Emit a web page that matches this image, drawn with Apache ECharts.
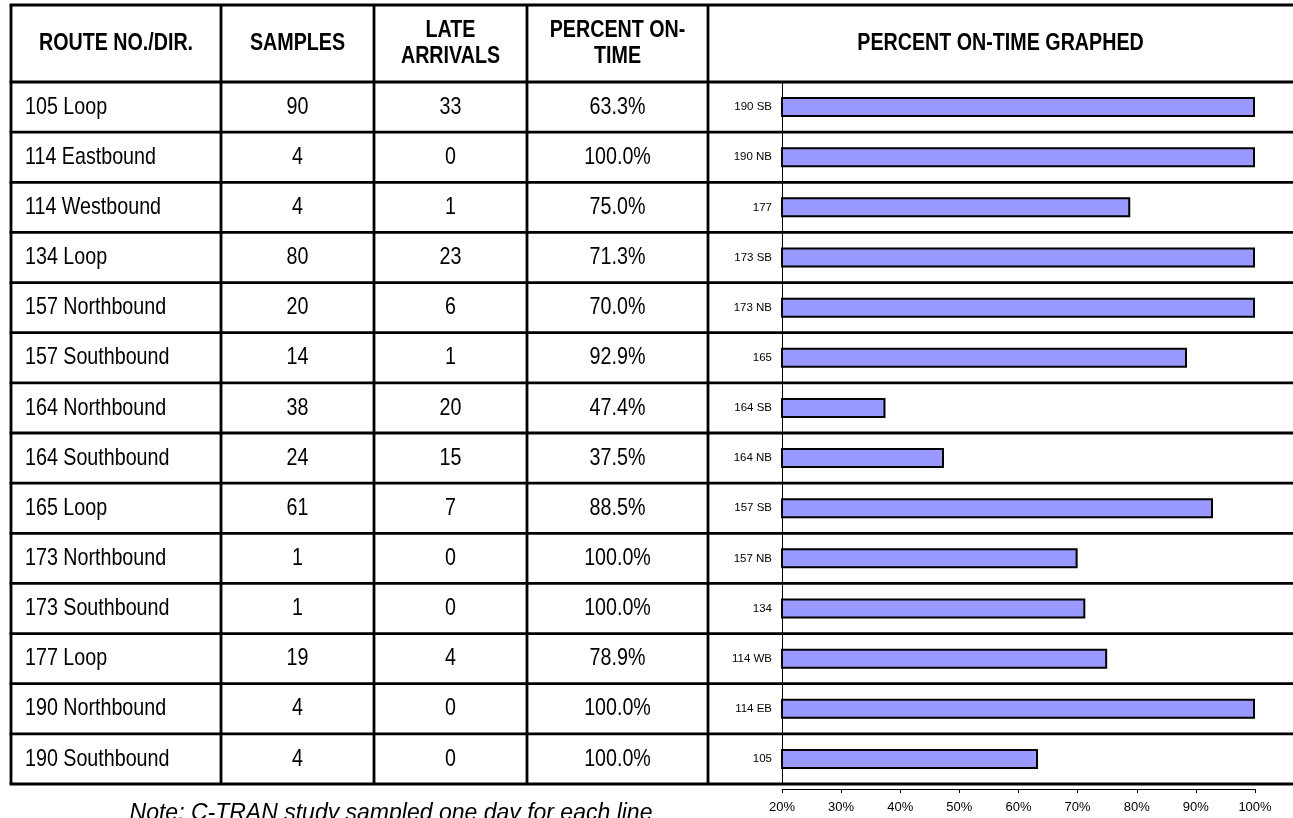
<!DOCTYPE html>
<html>
<head>
<meta charset="utf-8">
<style>
  html, body { margin: 0; padding: 0; background: #fff; }
  #chart { width: 1293px; height: 818px; }
</style>
<script src="https://cdn.jsdelivr.net/npm/echarts@6/dist/echarts.min.js"></script>
</head>
<body>
<div id="chart"></div>
<script>
// ---- data ----
const routes = ['105 Loop', '114 Eastbound', '114 Westbound', '134 Loop', '157 Northbound', '157 Southbound',
  '164 Northbound', '164 Southbound', '165 Loop', '173 Northbound', '173 Southbound', '177 Loop',
  '190 Northbound', '190 Southbound'];
const samples = [90, 4, 4, 80, 20, 14, 38, 24, 61, 1, 1, 19, 4, 4];
const lateArrivals = [33, 0, 1, 23, 6, 1, 20, 15, 7, 0, 0, 4, 0, 0];
const percentOnTime = [63.3, 100.0, 75.0, 71.3, 70.0, 92.9, 47.4, 37.5, 88.5, 100.0, 100.0, 78.9, 100.0, 100.0];
const chartLabels = ['105', '114 EB', '114 WB', '134', '157 NB', '157 SB', '164 NB', '164 SB', '165',
  '173 NB', '173 SB', '177', '190 NB', '190 SB'];
const headers = ['ROUTE NO./DIR.', 'SAMPLES', 'LATE\nARRIVALS', 'PERCENT ON-\nTIME', 'PERCENT ON-TIME GRAPHED'];
const xMin = 20, xMax = 100, xStep = 10;
const noteText = 'Note: C-TRAN study sampled one day for each line';

// ---- layout ----
const W = 1293, H = 818;
const colX = [11, 221, 374, 527, 708, W];   // column boundaries
const tableTop = 5, headerBottom = 82, tableBottom = 784;
const rowH = (tableBottom - headerBottom) / routes.length;
const plotLeft = 782, plotRight = 1255;
const arial = "'Liberation Sans', Arial, sans-serif";
const NARROW = 0.82;   // Arial Narrow ~ 82% width of Arial
const LW = 2.8;

const g = [];
// horizontal lines
const hy = [tableTop, headerBottom];
for (let i = 1; i <= routes.length; i++) hy.push(headerBottom + i * rowH);
hy.forEach(y => g.push({ type: 'line', shape: { x1: colX[0] - LW / 2, y1: y, x2: W, y2: y },
  style: { stroke: '#000', lineWidth: LW }, z: 100 }));
// vertical lines (no right border)
for (let c = 0; c < colX.length - 1; c++) {
  g.push({ type: 'line', shape: { x1: colX[c], y1: tableTop, x2: colX[c], y2: tableBottom },
    style: { stroke: '#000', lineWidth: LW }, z: 100 });
}
function narrowText(t, x, y, align, size, weight) {
  return { type: 'text', z: 100, x: x, y: y, scaleX: NARROW, style: {
    text: t, x: 0, y: 0, textAlign: align, align: align,
    textVerticalAlign: 'middle', verticalAlign: 'middle',
    fontSize: size, fontWeight: weight, fontFamily: arial, lineHeight: 26, fill: '#000' } };
}
// header texts
headers.forEach((h, c) => {
  g.push(narrowText(h, (colX[c] + colX[c + 1]) / 2, (tableTop + headerBottom) / 2, 'center', 24, 'bold'));
});
// body cells
routes.forEach((r, i) => {
  const cy = headerBottom + (i + 0.5) * rowH;
  const cells = [r, String(samples[i]), String(lateArrivals[i]), percentOnTime[i].toFixed(1) + '%'];
  cells.forEach((t, c) => {
    const left = c === 0;
    g.push(narrowText(t, left ? colX[0] + 14 : (colX[c] + colX[c + 1]) / 2, cy,
      left ? 'left' : 'center', 24, 'normal'));
  });
});
// note
g.push({ type: 'text', z: 100, style: {
  text: noteText, x: 391, y: 802,
  textAlign: 'center', align: 'center', textVerticalAlign: 'top', verticalAlign: 'top',
  fontSize: 23, fontStyle: 'italic', fontFamily: arial, fill: '#000' } });

const chart = echarts.init(document.getElementById('chart'), null, { renderer: 'canvas' });
chart.setOption({
  backgroundColor: '#fff',
  animation: false,
  grid: { left: plotLeft, right: W - plotRight, top: headerBottom, bottom: H - tableBottom, containLabel: false },
  xAxis: {
    type: 'value', min: xMin, max: xMax, interval: xStep, offset: 5,
    axisLine: { show: true, lineStyle: { color: '#000', width: 1 } },
    axisTick: { show: true, length: 4, lineStyle: { color: '#000' } },
    splitLine: { show: false },
    axisLabel: { formatter: '{value}%', color: '#000', fontSize: 13, fontFamily: arial, margin: 12 }
  },
  yAxis: {
    type: 'category', data: chartLabels,
    axisLine: { show: true, lineStyle: { color: '#000', width: 1 } },
    axisTick: { show: true, length: 4, lineStyle: { color: '#000' } },
    axisLabel: { color: '#000', fontSize: 11.5, fontFamily: arial, margin: 10 }
  },
  series: [{
    type: 'bar', data: percentOnTime, barWidth: 20,
    itemStyle: { color: '#9999FF', borderColor: '#000', borderWidth: 2 }
  }],
  graphic: { elements: g }
});
</script>
</body>
</html>
